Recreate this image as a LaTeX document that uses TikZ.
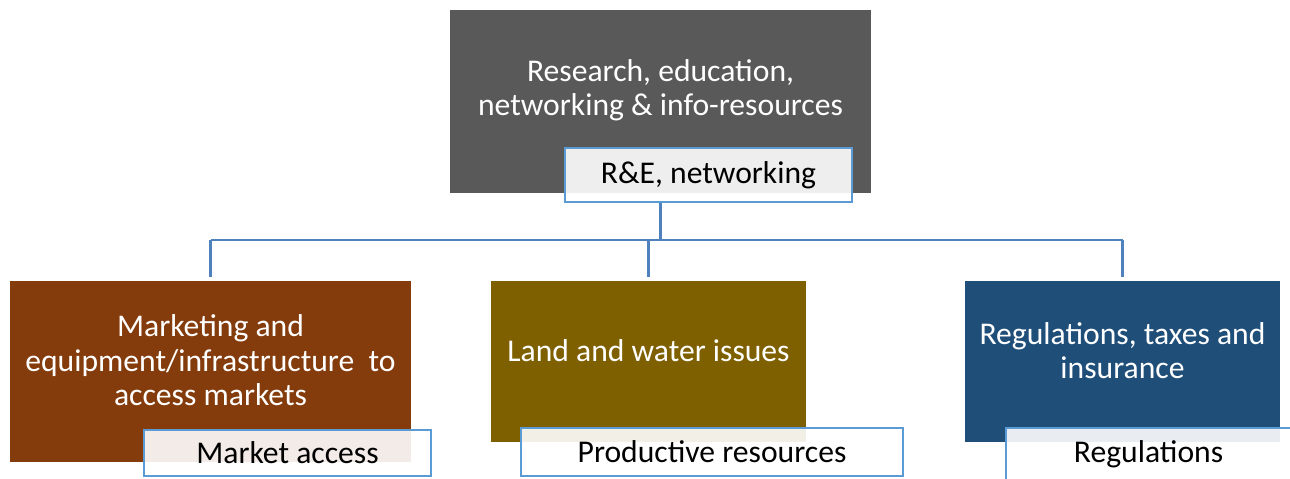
\documentclass[tikz,border=0pt]{standalone}
\usepackage{fontspec}
\setmainfont{Carlito}
\usetikzlibrary{positioning}

\definecolor{topgray}{HTML}{595959}
\definecolor{rust}{HTML}{843C0C}
\definecolor{olive}{HTML}{7F6000}
\definecolor{navy}{HTML}{1F4E79}
\definecolor{tagblue}{HTML}{5B9BD5}
\definecolor{linkblue}{HTML}{4F81BD}

\begin{document}
\begin{tikzpicture}[x=0.02cm,y=-0.02cm,
    box/.style={rectangle,draw=none,inner sep=0pt},
    boxtext/.style={text=white,align=center,inner sep=0pt,font=\fontsize{18}{19.6}\selectfont},
    tag/.style={rectangle,draw=tagblue,line width=1.3pt,fill=white,fill opacity=0.9,text opacity=1,inner sep=0pt,font=\fontsize{18}{19.6}\selectfont},
    link/.style={draw=linkblue,line width=1.5pt}]

    \useasboundingbox (0,0) rectangle (1290,478);

    % boxes
    \node[box,fill=topgray,minimum width=8.42cm,minimum height=3.66cm] (top) at (660.5,101.5) {};
    \node[box,fill=rust,minimum width=8.02cm,minimum height=3.62cm] (mkt) at (210.5,371.5) {};
    \node[box,fill=olive,minimum width=6.30cm,minimum height=3.22cm] (land) at (648.5,361.5) {};
    \node[box,fill=navy,minimum width=6.30cm,minimum height=3.22cm] (reg) at (1122.5,361.5) {};

    \node[boxtext] (toptext) at ([yshift=0.22cm]top.center) {Research, education,\\networking \& info-resources};
    \node[boxtext] (mkttext) at ([yshift=0.22cm]mkt.center) {Marketing and\\equipment/infrastructure\ \ to\\access markets};
    \node[boxtext] (landtext) at ([yshift=0.22cm]land.center) {Land and water issues};
    \node[boxtext] (regtext) at ([yshift=0.22cm]reg.center) {Regulations, taxes and\\insurance};

    % tags
    \node[tag,minimum width=5.74cm,minimum height=1.08cm] (re) at (708.5,175) {R\&E, networking};
    \node[tag,minimum width=5.74cm,minimum height=0.92cm] (mkta) at (287.5,453) {Market access};
    \node[tag,minimum width=7.64cm,minimum height=0.96cm] (prod) at (712,452) {Productive resources};
    \node[tag,draw=none,minimum width=5.66cm,minimum height=1.0cm] (regl) at (1148.5,454) {Regulations};
    \draw[draw=tagblue,line width=1.3pt] (regl.south west) -- (regl.north west) -- (regl.north east);

    % connectors
    \coordinate (bus) at (660.5,240);
    \draw[link] (top.south |- re.south) -- (top.south |- bus);
    \draw[link] (mkt.north |- bus) -- (reg.north |- bus);
    \foreach \n in {mkt,land,reg}
        \draw[link,shorten >=0.08cm] (\n.north |- bus) -- (\n.north);

\end{tikzpicture}
\end{document}
